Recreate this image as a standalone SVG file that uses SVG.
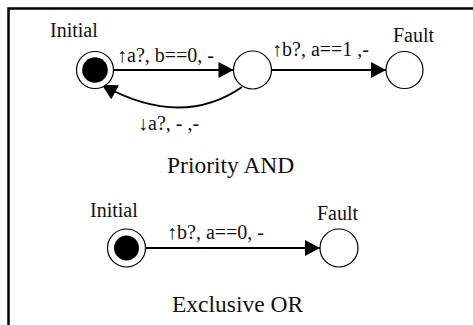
<svg xmlns="http://www.w3.org/2000/svg" width="473" height="325" viewBox="0 0 473 325">
<defs>
<marker id="ah" markerUnits="userSpaceOnUse" markerWidth="16" markerHeight="18" refX="15" refY="8" orient="auto" overflow="visible">
<path d="M0,0 L15,8 L0,16 z" fill="#000"/>
</marker>
<style>
.st{fill:#fff;stroke:#000;stroke-width:1.2}
.dot{fill:#000}
.e{fill:none;stroke:#000;stroke-width:2;marker-end:url(#ah)}
text{font-family:"Liberation Serif","Times New Roman",serif;fill:#111}
.l{font-size:20px}
.c{font-size:23.5px}
</style>
</defs>
<rect width="473" height="325" fill="#fff"/>
<path d="M8.5,325 V8.5 H473" fill="none" stroke="#000" stroke-width="2.5"/>
<g id="connectors">
<path class="e" d="M113.5,70 H233.5"/>
<path class="e" d="M271.5,70 H386"/>
<path class="e" d="M242,87 Q181.5,129 102,85"/>
<path class="e" d="M145.5,248 H320"/>
</g>
<g id="pa_initial">
<circle class="st" cx="95" cy="70" r="18.5"/>
<circle class="dot" cx="95" cy="70" r="12.8"/>
<text class="l" x="50" y="37">Initial</text>
</g>
<g id="pa_mid">
<circle class="st" cx="252.5" cy="70" r="19"/>
</g>
<g id="pa_fault">
<circle class="st" cx="404.5" cy="70" r="18.5"/>
<text class="l" x="393" y="42">Fault</text>
</g>
<g id="labels_pa">
<text class="l" x="117" y="62">↑a?, b==0, -</text>
<text class="l" x="272" y="56">↑b?, a==1 ,-</text>
<text class="l" x="138" y="130">↓a?, - ,-</text>
<text class="c" x="167" y="173">Priority AND</text>
</g>
<g id="xo_initial">
<circle class="st" cx="126.5" cy="248" r="19"/>
<circle class="dot" cx="126.5" cy="248" r="12.5"/>
<text class="l" x="90" y="217">Initial</text>
</g>
<g id="xo_fault">
<circle class="st" cx="339" cy="248" r="19"/>
<text class="l" x="317" y="220">Fault</text>
</g>
<g id="labels_xo">
<text class="l" x="167" y="239">↑b?, a==0, -</text>
<text class="c" x="172" y="311.5">Exclusive OR</text>
</g>
</svg>
